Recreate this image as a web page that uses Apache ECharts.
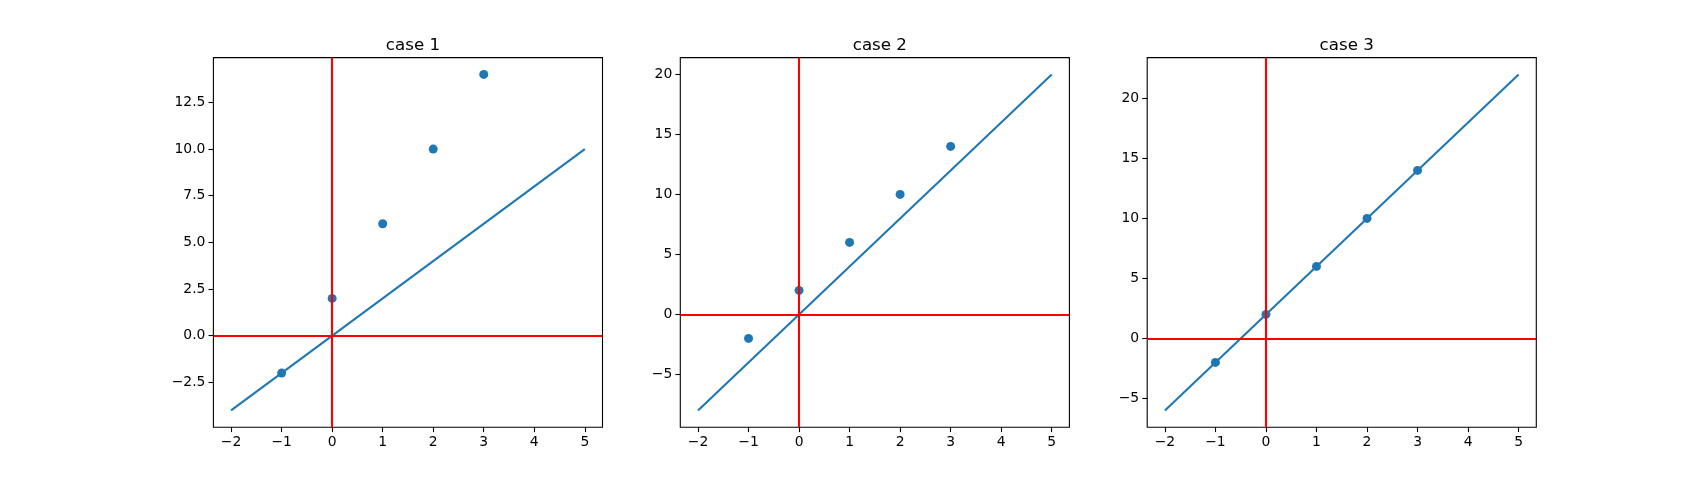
<!DOCTYPE html>
<html>
<head>
<meta charset="utf-8">
<script src="https://cdn.jsdelivr.net/npm/echarts@6/dist/echarts.min.js"></script>
<style>html,body{margin:0;padding:0;background:#fff}#c{width:1707px;height:480px}</style>
</head>
<body>
<div id="c"></div>
<script>
// Data
const titles = ['case 1', 'case 2', 'case 3'];
const pointX = [-1, 0, 1, 2, 3];
const pointY = [-2, 2, 6, 10, 14];
const lineX = [-2, 5];
const lineY1 = [-4, 10];
const lineY2 = [-8, 20];
const lineY3 = [-6, 22];
const xTicks = [-2, -1, 0, 1, 2, 3, 4, 5];
const yTicks1 = [-2.5, 0, 2.5, 5, 7.5, 10, 12.5];
const yTicks2 = [-5, 0, 5, 10, 15, 20];
const yTicks3 = [-5, 0, 5, 10, 15, 20];
const xRange = [-2.35, 5.35];
const yRange1 = [-4.9, 14.9];
const yRange2 = [-9.4, 21.4];
const yRange3 = [-7.4, 23.4];

const lineYs = [lineY1, lineY2, lineY3];
const yTicksAll = [yTicks1, yTicks2, yTicks3];
const yRanges = [yRange1, yRange2, yRange3];

const FONT = 'DejaVu Sans';
const BLUE = '#1f77b4';
const fmt = (dec) => (v) => {
  const s = dec ? Number(v).toFixed(1) : String(Math.round(v));
  return s.replace('-', '\u2212');
};

const lefts = [213.4, 680.3, 1147.2];
const W = 389.1, TOP = 57.6, H = 369.6;

const grid = [], xAxis = [], yAxis = [], series = [], title = [];
for (let i = 0; i < 3; i++) {
  grid.push({left: lefts[i], top: TOP, width: W, height: H, show: true, borderColor: '#000', borderWidth: 1.1, backgroundColor: 'transparent'});
  title.push({text: titles[i], left: lefts[i] + W / 2, top: 32, textAlign: 'center',
    textStyle: {fontFamily: FONT, fontSize: 16.7, fontWeight: 'normal', color: '#000'}});
  xAxis.push({type: 'value', gridIndex: i, min: xRange[0], max: xRange[1], position: 'bottom',
    splitLine: {show: false}, axisLine: {show: false, onZero: false},
    axisTick: {show: true, length: 4.9, lineStyle: {color: '#000', width: 1.1}, customValues: xTicks},
    axisLabel: {show: true, customValues: xTicks, formatter: fmt(false), fontFamily: FONT, fontSize: 13.9, color: '#000', margin: 8}});
  const dec = i === 0;
  yAxis.push({type: 'value', gridIndex: i, min: yRanges[i][0], max: yRanges[i][1], position: 'left',
    splitLine: {show: false}, axisLine: {show: false, onZero: false},
    axisTick: {show: true, length: 4.9, lineStyle: {color: '#000', width: 1.1}, customValues: yTicksAll[i]},
    axisLabel: {show: true, customValues: yTicksAll[i], formatter: fmt(dec), fontFamily: FONT, fontSize: 13.9, color: '#000', margin: 8}});
  series.push({type: 'scatter', xAxisIndex: i, yAxisIndex: i, z: 1,
    data: pointX.map((x, k) => [x, pointY[k]]), symbolSize: 9,
    itemStyle: {color: BLUE, opacity: 1}, silent: true});
  series.push({type: 'line', xAxisIndex: i, yAxisIndex: i, z: 2,
    data: lineX.map((x, k) => [x, lineYs[i][k]]), showSymbol: false, symbol: 'none',
    lineStyle: {color: BLUE, width: 2.1}, silent: true,
    markLine: {silent: true, symbol: 'none', label: {show: false}, animation: false,
      lineStyle: {color: '#ff0000', width: 2.1, type: 'solid'}, z: 5,
      data: [{yAxis: 0}, {xAxis: 0}]}});
}

const chart = echarts.init(document.getElementById('c'), null, {renderer: 'canvas'});
chart.setOption({animation: false, backgroundColor: '#fff', title, grid, xAxis, yAxis, series});
</script>
</body>
</html>
